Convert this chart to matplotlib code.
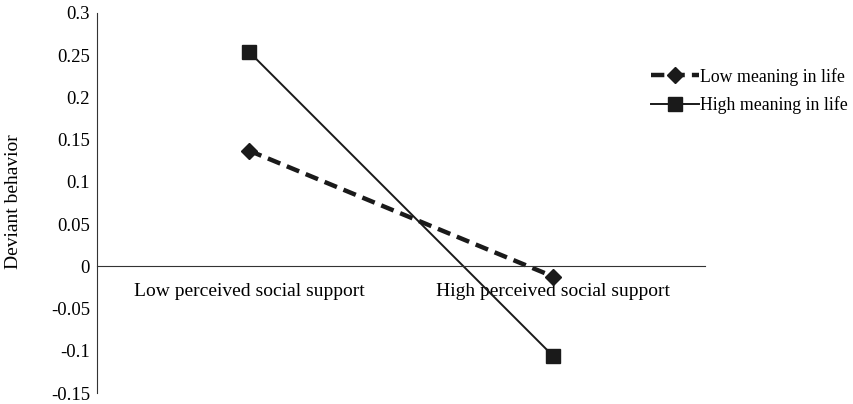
import matplotlib.pyplot as plt

plt.rcParams['font.family'] = ['Liberation Serif', 'DejaVu Serif']

# data
categories = ["Low perceived social support", "High perceived social support"]
low_meaning = [0.137, -0.012]
high_meaning = [0.254, -0.106]
yticks = [0.3, 0.25, 0.2, 0.15, 0.1, 0.05, 0, -0.05, -0.1, -0.15]
ytick_labels = ["0.3", "0.25", "0.2", "0.15", "0.1", "0.05", "0", "-0.05", "-0.1", "-0.15"]

fig = plt.figure(figsize=(8.54, 4.04), dpi=100)
ax = fig.add_axes([0.1136, 0.027, 0.712, 0.941])

x = [0, 1]
ax.plot(x, low_meaning, color="#1a1a1a", lw=3.2, ls=(0, (3, 1.6)),
        marker="D", ms=8.5, label="Low meaning in life")
ax.plot(x, high_meaning, color="#1a1a1a", lw=1.4, ls="-",
        marker="s", ms=10, label="High meaning in life")

ax.set_xlim(-0.5, 1.5)
ax.set_ylim(-0.15, 0.3)
ax.set_yticks(yticks)
ax.set_yticklabels(ytick_labels, fontsize=13.5)
ax.tick_params(axis="y", length=0, pad=5)

ax.spines["top"].set_visible(False)
ax.spines["right"].set_visible(False)
ax.spines["bottom"].set_position(("data", 0))
ax.spines["left"].set_color("#333333")
ax.spines["bottom"].set_color("#333333")
ax.set_xticks(x)
ax.set_xticklabels(categories, fontsize=14)
ax.tick_params(axis="x", length=0, pad=12)

fig.text(0.016, 0.5, "Deviant behavior", rotation=90, va="center", ha="center", fontsize=14)

ax.legend(loc="center left", bbox_to_anchor=(0.9, 0.795), frameon=False,
          fontsize=12.8, handlelength=2.7, handletextpad=0.05, labelspacing=0.6,
          borderaxespad=0)

fig.savefig("out.png", dpi=100)
